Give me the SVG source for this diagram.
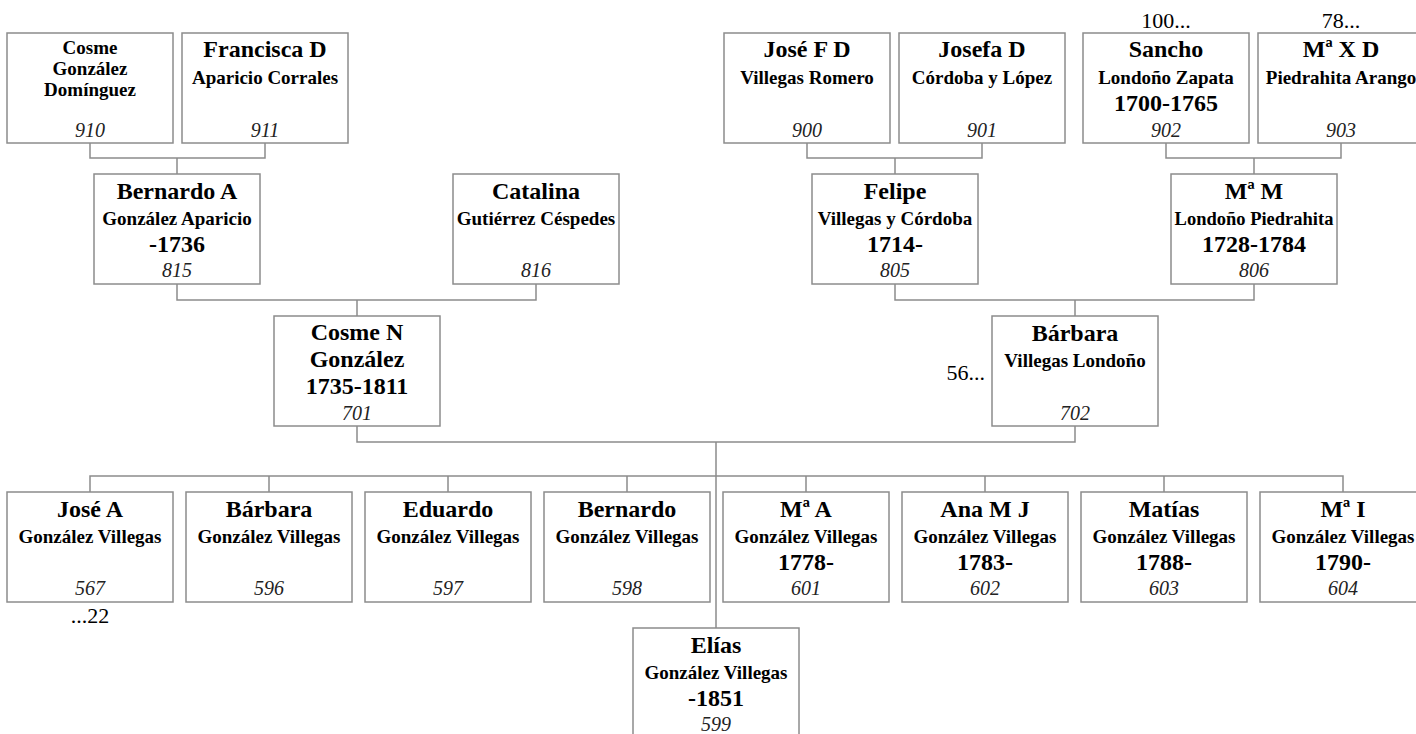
<svg xmlns="http://www.w3.org/2000/svg" width="1416" height="734" viewBox="0 0 1416 734">
<style>
.box{fill:#fff;stroke:#8c8c8c;stroke-width:1.5}
.c{fill:none;stroke:#8c8c8c;stroke-width:1.5}
text{font-family:"Liberation Serif","Times New Roman",serif;fill:#000;text-anchor:middle}
.n{font-size:24px;font-weight:bold}
.s{font-size:19px;font-weight:bold}
.id{font-size:20px;font-style:italic;fill:#222}
.x{font-size:22px}
</style>
<rect width="1416" height="734" fill="#fff"/>
<g id="connectors">
<path class="c" d="M90,143V158H265V143M177,158V174"/>
<path class="c" d="M807,143V158H982V143M895,158V174"/>
<path class="c" d="M1166,143V158H1341V143M1254,158V174"/>
<path class="c" d="M177,284V300H536V284M357,300V316"/>
<path class="c" d="M895,284V300H1254V284M1075,300V316"/>
<path class="c" d="M357,426V442H1075V426M716,442V628"/>
<path class="c" d="M90,492V476H1343V492M269,476V492M448,476V492M627,476V492M806,476V492M985,476V492M1164,476V492"/>
</g>
<g id="n910" transform="translate(7,33)"><rect class="box" width="166" height="110"/><text class="s" x="83" y="21">Cosme</text><text class="s" x="83" y="42">González</text><text class="s" x="83" y="63">Domínguez</text><text class="id" x="83" y="104">910</text></g>
<g id="n911" transform="translate(182,33)"><rect class="box" width="166" height="110"/><text class="n" x="83" y="24">Francisca D</text><text class="s" x="83" y="51">Aparicio Corrales</text><text class="id" x="83" y="104">911</text></g>
<g id="n900" transform="translate(724,33)"><rect class="box" width="166" height="110"/><text class="n" x="83" y="24">José F D</text><text class="s" x="83" y="51">Villegas Romero</text><text class="id" x="83" y="104">900</text></g>
<g id="n901" transform="translate(899,33)"><rect class="box" width="166" height="110"/><text class="n" x="83" y="24">Josefa D</text><text class="s" x="83" y="51">Córdoba y López</text><text class="id" x="83" y="104">901</text></g>
<g id="n902" transform="translate(1083,33)"><rect class="box" width="166" height="110"/><text class="n" x="83" y="24">Sancho</text><text class="s" x="83" y="51">Londoño Zapata</text><text class="n" x="83" y="78">1700-1765</text><text class="id" x="83" y="104">902</text></g>
<g id="n903" transform="translate(1258,33)"><rect class="box" width="166" height="110"/><text class="n" x="83" y="24">Mª X D</text><text class="s" x="83" y="51">Piedrahita Arango</text><text class="id" x="83" y="104">903</text></g>
<g id="n815" transform="translate(94,174)"><rect class="box" width="166" height="110"/><text class="n" x="83" y="25">Bernardo A</text><text class="s" x="83" y="51">González Aparicio</text><text class="n" x="83" y="78">-1736</text><text class="id" x="83" y="103">815</text></g>
<g id="n816" transform="translate(453,174)"><rect class="box" width="166" height="110"/><text class="n" x="83" y="25">Catalina</text><text class="s" x="83" y="51">Gutiérrez Céspedes</text><text class="id" x="83" y="103">816</text></g>
<g id="n805" transform="translate(812,174)"><rect class="box" width="166" height="110"/><text class="n" x="83" y="25">Felipe</text><text class="s" x="83" y="51">Villegas y Córdoba</text><text class="n" x="83" y="78">1714-</text><text class="id" x="83" y="103">805</text></g>
<g id="n806" transform="translate(1171,174)"><rect class="box" width="166" height="110"/><text class="n" x="83" y="25">Mª M</text><text class="s" x="83" y="51" style="font-size:18.5px">Londoño Piedrahita</text><text class="n" x="83" y="78">1728-1784</text><text class="id" x="83" y="103">806</text></g>
<g id="n701" transform="translate(274,316)"><rect class="box" width="166" height="110"/><text class="n" x="83" y="24">Cosme N</text><text class="n" x="83" y="51">González</text><text class="n" x="83" y="78">1735-1811</text><text class="id" x="83" y="104">701</text></g>
<g id="n702" transform="translate(992,316)"><rect class="box" width="166" height="110"/><text class="n" x="83" y="25">Bárbara</text><text class="s" x="83" y="51">Villegas Londoño</text><text class="id" x="83" y="104">702</text></g>
<g id="n567" transform="translate(7,492)"><rect class="box" width="166" height="110"/><text class="n" x="83" y="25">José A</text><text class="s" x="83" y="51">González Villegas</text><text class="id" x="83" y="103">567</text></g>
<g id="n596" transform="translate(186,492)"><rect class="box" width="166" height="110"/><text class="n" x="83" y="25">Bárbara</text><text class="s" x="83" y="51">González Villegas</text><text class="id" x="83" y="103">596</text></g>
<g id="n597" transform="translate(365,492)"><rect class="box" width="166" height="110"/><text class="n" x="83" y="25">Eduardo</text><text class="s" x="83" y="51">González Villegas</text><text class="id" x="83" y="103">597</text></g>
<g id="n598" transform="translate(544,492)"><rect class="box" width="166" height="110"/><text class="n" x="83" y="25">Bernardo</text><text class="s" x="83" y="51">González Villegas</text><text class="id" x="83" y="103">598</text></g>
<g id="n601" transform="translate(723,492)"><rect class="box" width="166" height="110"/><text class="n" x="83" y="25">Mª A</text><text class="s" x="83" y="51">González Villegas</text><text class="n" x="83" y="78">1778-</text><text class="id" x="83" y="103">601</text></g>
<g id="n602" transform="translate(902,492)"><rect class="box" width="166" height="110"/><text class="n" x="83" y="25">Ana M J</text><text class="s" x="83" y="51">González Villegas</text><text class="n" x="83" y="78">1783-</text><text class="id" x="83" y="103">602</text></g>
<g id="n603" transform="translate(1081,492)"><rect class="box" width="166" height="110"/><text class="n" x="83" y="25">Matías</text><text class="s" x="83" y="51">González Villegas</text><text class="n" x="83" y="78">1788-</text><text class="id" x="83" y="103">603</text></g>
<g id="n604" transform="translate(1260,492)"><rect class="box" width="166" height="110"/><text class="n" x="83" y="25">Mª I</text><text class="s" x="83" y="51">González Villegas</text><text class="n" x="83" y="78">1790-</text><text class="id" x="83" y="103">604</text></g>
<g id="n599" transform="translate(633,628)"><rect class="box" width="166" height="110"/><text class="n" x="83" y="25">Elías</text><text class="s" x="83" y="51">González Villegas</text><text class="n" x="83" y="78">-1851</text><text class="id" x="83" y="103">599</text></g>
<g id="notes">
<text class="x" x="1166" y="28">100...</text>
<text class="x" x="1341" y="28">78...</text>
<text class="x" x="985" y="380" style="text-anchor:end">56...</text>
<text class="x" x="90" y="623">...22</text>
</g>
</svg>
